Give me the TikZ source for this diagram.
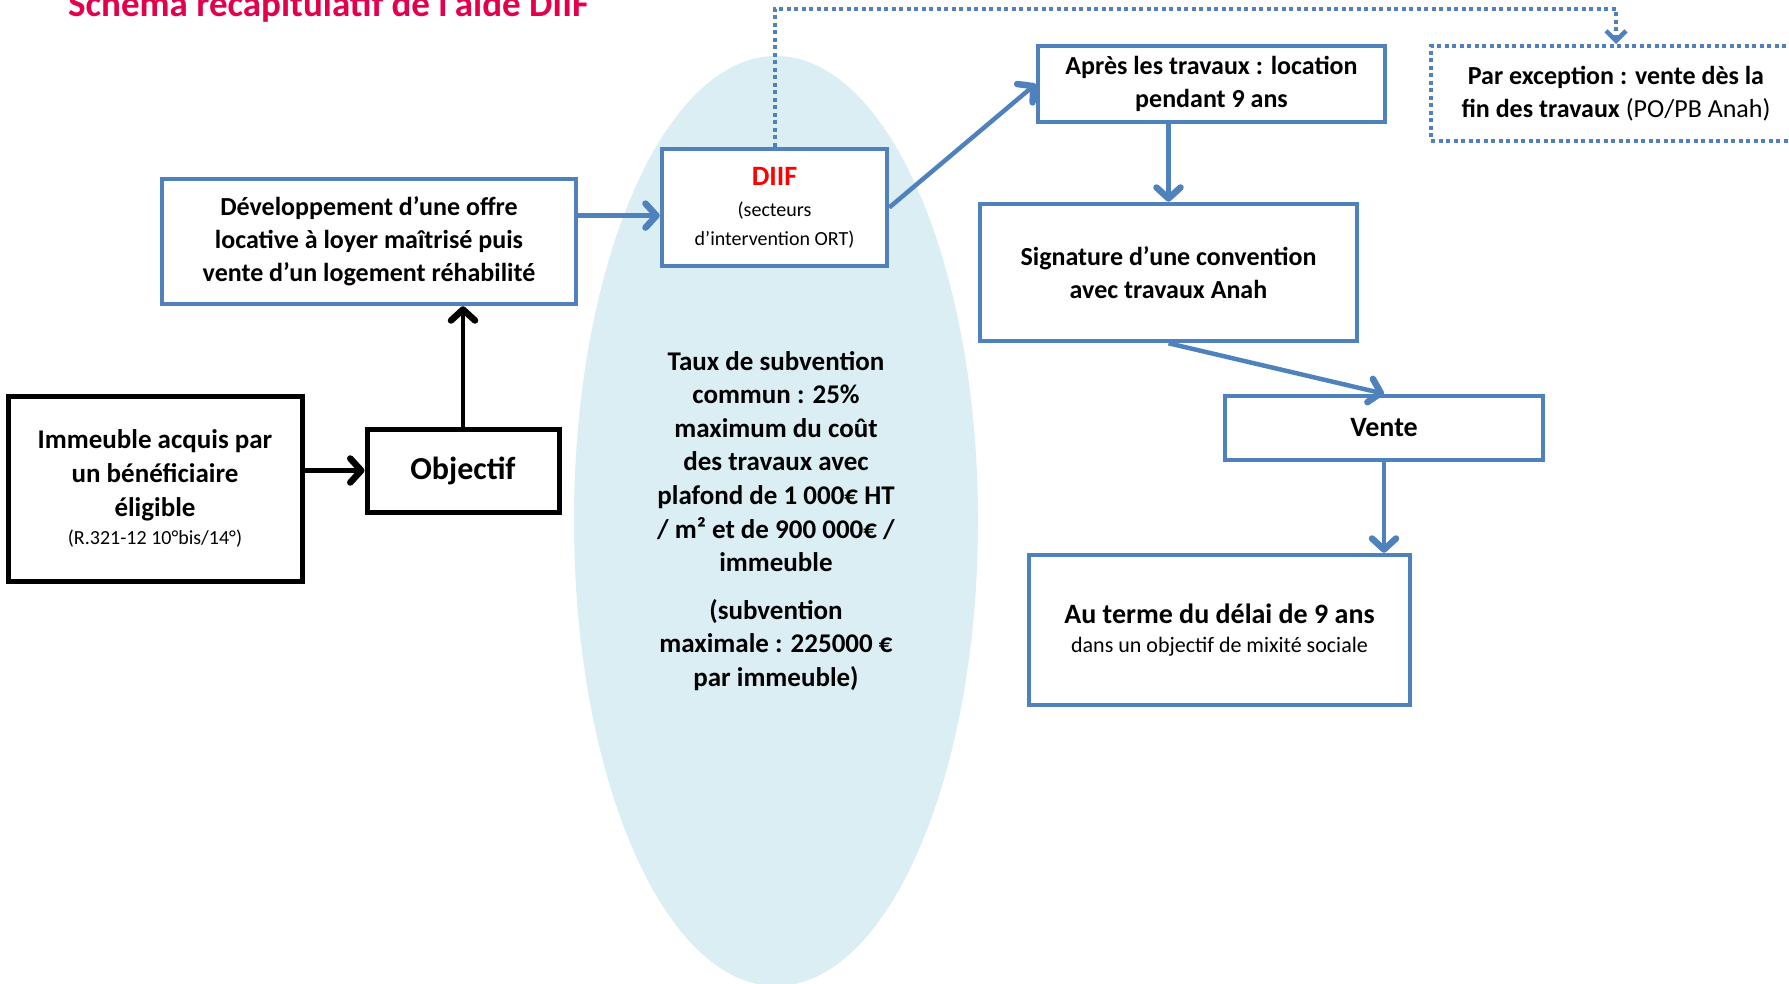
\documentclass[tikz,border=0pt]{standalone}
\usepackage{fontspec}
\setmainfont{Carlito}
\usetikzlibrary{arrows.meta,calc,shapes.geometric}

\definecolor{boxblue}{RGB}{79,129,189}
\definecolor{zoneblue}{RGB}{218,238,243}
\definecolor{titlered}{RGB}{226,0,74}
\definecolor{diifred}{RGB}{255,0,0}

\newcommand{\boxfont}{\fontsize{26}{33}\selectfont\bfseries}
\newcommand{\notefont}{\fontsize{20}{25}\selectfont\mdseries}

\begin{document}
\begin{tikzpicture}[x=1pt, y=-1pt,
  bluebox/.style={draw=boxblue, line width=4.5pt, fill=white, align=center, inner sep=0pt, font=\boxfont},
  blackbox/.style={draw=black, line width=5pt, fill=white, align=center, inner sep=0pt, font=\boxfont},
  dotbox/.style={draw=boxblue, line width=4pt, dash pattern=on 4pt off 3.5pt, align=center, inner sep=0pt, font=\boxfont},
  bluearrow/.style={draw=boxblue, line width=4.5pt, -{Straight Barb[length=11pt,width=24pt,line width=6.5pt,round]}},
  blackarrow/.style={draw=black, line width=4.5pt, -{Straight Barb[length=11pt,width=24pt,line width=6.5pt,round]}},
  dotarrow/.style={draw=boxblue, line width=4pt, dash pattern=on 4pt off 3.5pt, -{Straight Barb[length=10pt,width=20pt,line width=4.5pt]}}]
  \useasboundingbox (0,0) rectangle (1789,984);
  \node[anchor=base west, inner sep=0pt, text=titlered, font=\fontsize{37}{44}\selectfont\bfseries] (titre) at (68,17) {Schéma récapitulatif de l’aide DIIF};
  \node[ellipse, fill=zoneblue, inner sep=0pt, minimum width=404pt, minimum height=930pt, align=center, font=\fontsize{27}{33.6}\selectfont\bfseries] (taux) at (776,521)
    {Taux de subvention\\ commun : 25\%\\ maximum du coût\\ des travaux avec\\ plafond de 1 000€ HT\\ / m² et de 900 000€ /\\ immeuble\\[14pt] (subvention\\ maximale : 225000 €\\ par immeuble)};
  \node[blackbox, minimum width=294pt, minimum height=185pt, font=\fontsize{27}{34}\selectfont\bfseries] (imm) at (155,488.5)
    {Immeuble acquis par\\ un bénéficiaire\\ éligible\\[-6pt] {\notefont (R.321-12 10°bis/14°)}};
  \node[blackbox, minimum width=192pt, minimum height=83pt, font=\fontsize{32}{38}\selectfont\bfseries] (obj) at (463,470.5) {Objectif};
  \node[bluebox, minimum width=414pt, minimum height=125pt] (dev) at (369,241.5)
    {Développement d’une offre\\ locative à loyer maîtrisé puis\\ vente d’un logement réhabilité};
  \node[bluebox, minimum width=225pt, minimum height=117pt] (diif) at (774.5,207.5)
    {\textcolor{diifred}{\fontsize{28}{32}\selectfont DIIF}\\[-2pt] {\notefont (secteurs}\\[-4pt] {\notefont d’intervention ORT)}};
  \node[bluebox, minimum width=347pt, minimum height=76pt] (apres) at (1211.5,84)
    {Après les travaux : location\\ pendant 9 ans};
  \node[dotbox, minimum width=370pt, minimum height=95pt] (exc) at (1616,93.5)
    {Par exception : vente dès la\\ fin des travaux {\mdseries (PO/PB Anah)}};
  \node[bluebox, minimum width=377pt, minimum height=137pt] (sign) at (1168.5,272.5)
    {Signature d’une convention\\ avec travaux Anah};
  \node[bluebox, minimum width=318pt, minimum height=64pt, font=\fontsize{28}{33}\selectfont\bfseries] (vente) at (1384,428) {Vente};
  \node[bluebox, minimum width=381pt, minimum height=150pt] (terme) at (1219.5,630)
    {{\fontsize{28}{33}\selectfont Au terme du délai de 9 ans}\\[-4pt] {\fontsize{22}{27}\selectfont\mdseries dans un objectif de mixité sociale}};
  \coordinate (devout) at ($(dev.north east)!0.3!(dev.south east)$);
  \draw[blackarrow] (imm.east |- obj.west) -- (obj.west);
  \draw[blackarrow] (obj.north) -- (obj.north |- dev.south);
  \draw[bluearrow] (devout) -- (devout -| diif.west);
  \draw[bluearrow] (diif.east) -- (apres.west);
  \draw[bluearrow] (sign.north |- apres.south) -- (sign.north);
  \draw[bluearrow] (sign.south) -- (vente.north);
  \draw[bluearrow] (vente.south) -- (vente.south |- terme.north);
  \draw[dotarrow] (diif.north) |- ($(exc.north)+(0,-35)$) -- (exc.north);
\end{tikzpicture}
\end{document}
